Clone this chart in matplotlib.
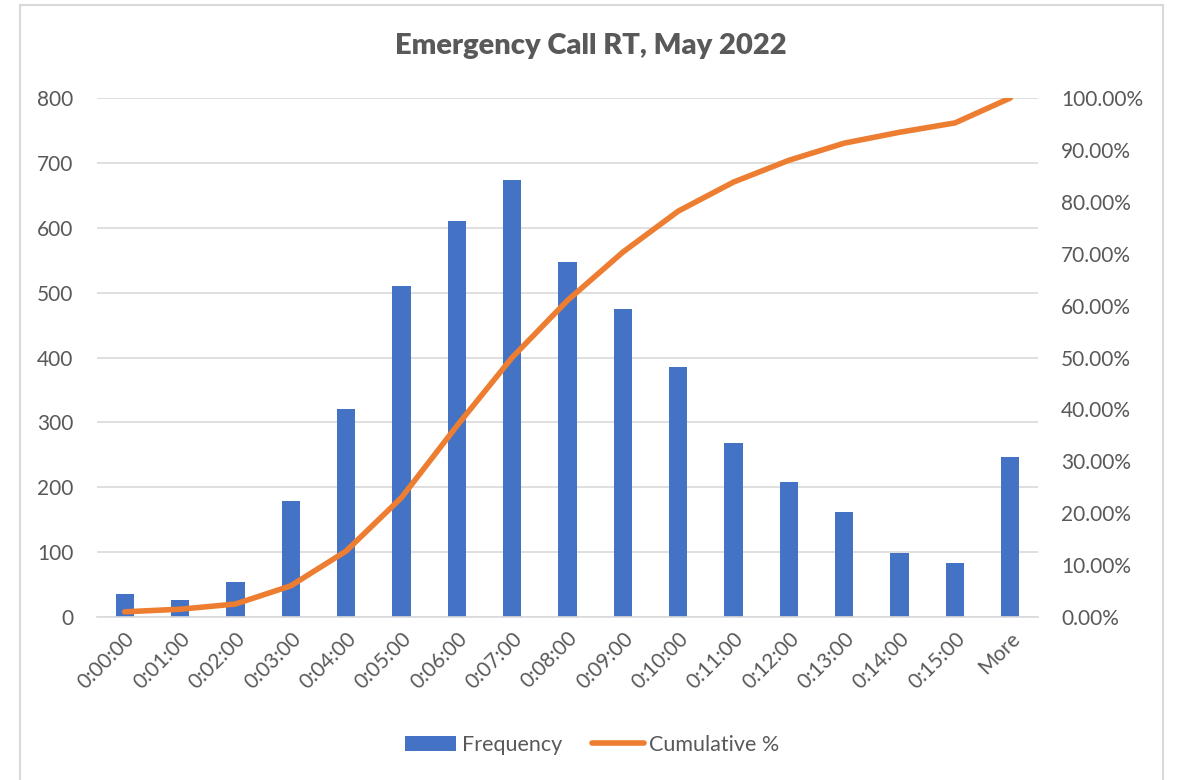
import numpy as np
import matplotlib.pyplot as plt
from matplotlib.patches import Rectangle
from matplotlib.ticker import FuncFormatter

plt.rcParams['font.family'] = ['Lato', 'DejaVu Sans']

# histogram bins and counts
bins = ["0:00:00", "0:01:00", "0:02:00", "0:03:00", "0:04:00", "0:05:00",
        "0:06:00", "0:07:00", "0:08:00", "0:09:00", "0:10:00", "0:11:00",
        "0:12:00", "0:13:00", "0:14:00", "0:15:00", "More"]
frequency = [35, 26, 54, 179, 321, 510, 610, 673, 547, 475, 385, 268,
             208, 162, 99, 83, 247]
cumulative_pct = [1.0, 1.5, 2.5, 6.0, 12.7, 23.0, 36.8, 50.0, 61.0, 70.3,
                  78.2, 83.8, 88.0, 91.3, 93.4, 95.2, 100.0]

grey = "#595959"
blue = "#4472C4"
orange = "#ED7D31"

fig = plt.figure(figsize=(11.77, 7.8), dpi=100)
ax = fig.add_axes([97 / 1177, 1 - 617 / 780, (1038 - 97) / 1177, (617 - 98) / 780])

# outer chart frame like the spreadsheet export
fig.patches.append(Rectangle((20 / 1177, -0.01), (1163 - 20) / 1177, 1 - 5 / 780 + 0.01,
                             transform=fig.transFigure, fill=False,
                             edgecolor="#d9d9d9", linewidth=1.5))

x = np.arange(len(bins))
bars = ax.bar(x, frequency, width=0.33, color=blue, zorder=2, label="Frequency")
ax.set_xlim(-0.5, len(bins) - 0.5)
ax.set_ylim(0, 800)
ax.set_yticks(range(0, 801, 100))
ax.grid(axis="y", color="#d9d9d9", linewidth=1.2, zorder=0)
for s in ["top", "left", "right"]:
    ax.spines[s].set_visible(False)
ax.spines["bottom"].set_color("#d9d9d9")
ax.spines["bottom"].set_linewidth(1.2)
ax.tick_params(axis="both", length=0, colors=grey, labelsize=15)
ax.tick_params(axis="y", pad=17)
ax.set_xticks(x)
ax.set_xticklabels(bins, rotation=45, ha="right", rotation_mode="anchor")
ax.tick_params(axis="x", pad=8)

ax2 = ax.twinx()
line, = ax2.plot(x, cumulative_pct, color=orange, linewidth=4, zorder=3,
                 solid_capstyle="round", label="Cumulative %")
ax2.set_ylim(0, 100)
ax2.set_yticks(range(0, 101, 10))
ax2.yaxis.set_major_formatter(FuncFormatter(lambda v, p: f"{v:.2f}%"))
ax2.tick_params(axis="y", length=0, colors=grey, labelsize=15, pad=16.5)
for s in ax2.spines.values():
    s.set_visible(False)

fig.suptitle("Emergency Call RT, May 2022", x=590.5 / 1177, y=1 - 46 / 780,
             ha="center", va="center", fontsize=21, fontweight="heavy", color=grey)

fig.legend([bars, line], ["Frequency", "Cumulative %"], loc="center",
           bbox_to_anchor=(0.503, 1 - 745 / 780), ncol=2, frameon=False,
           fontsize=15.5, labelcolor=grey, handlelength=2.4, columnspacing=1.4,
           handletextpad=0.25)

fig.savefig("out.png", dpi=100)
